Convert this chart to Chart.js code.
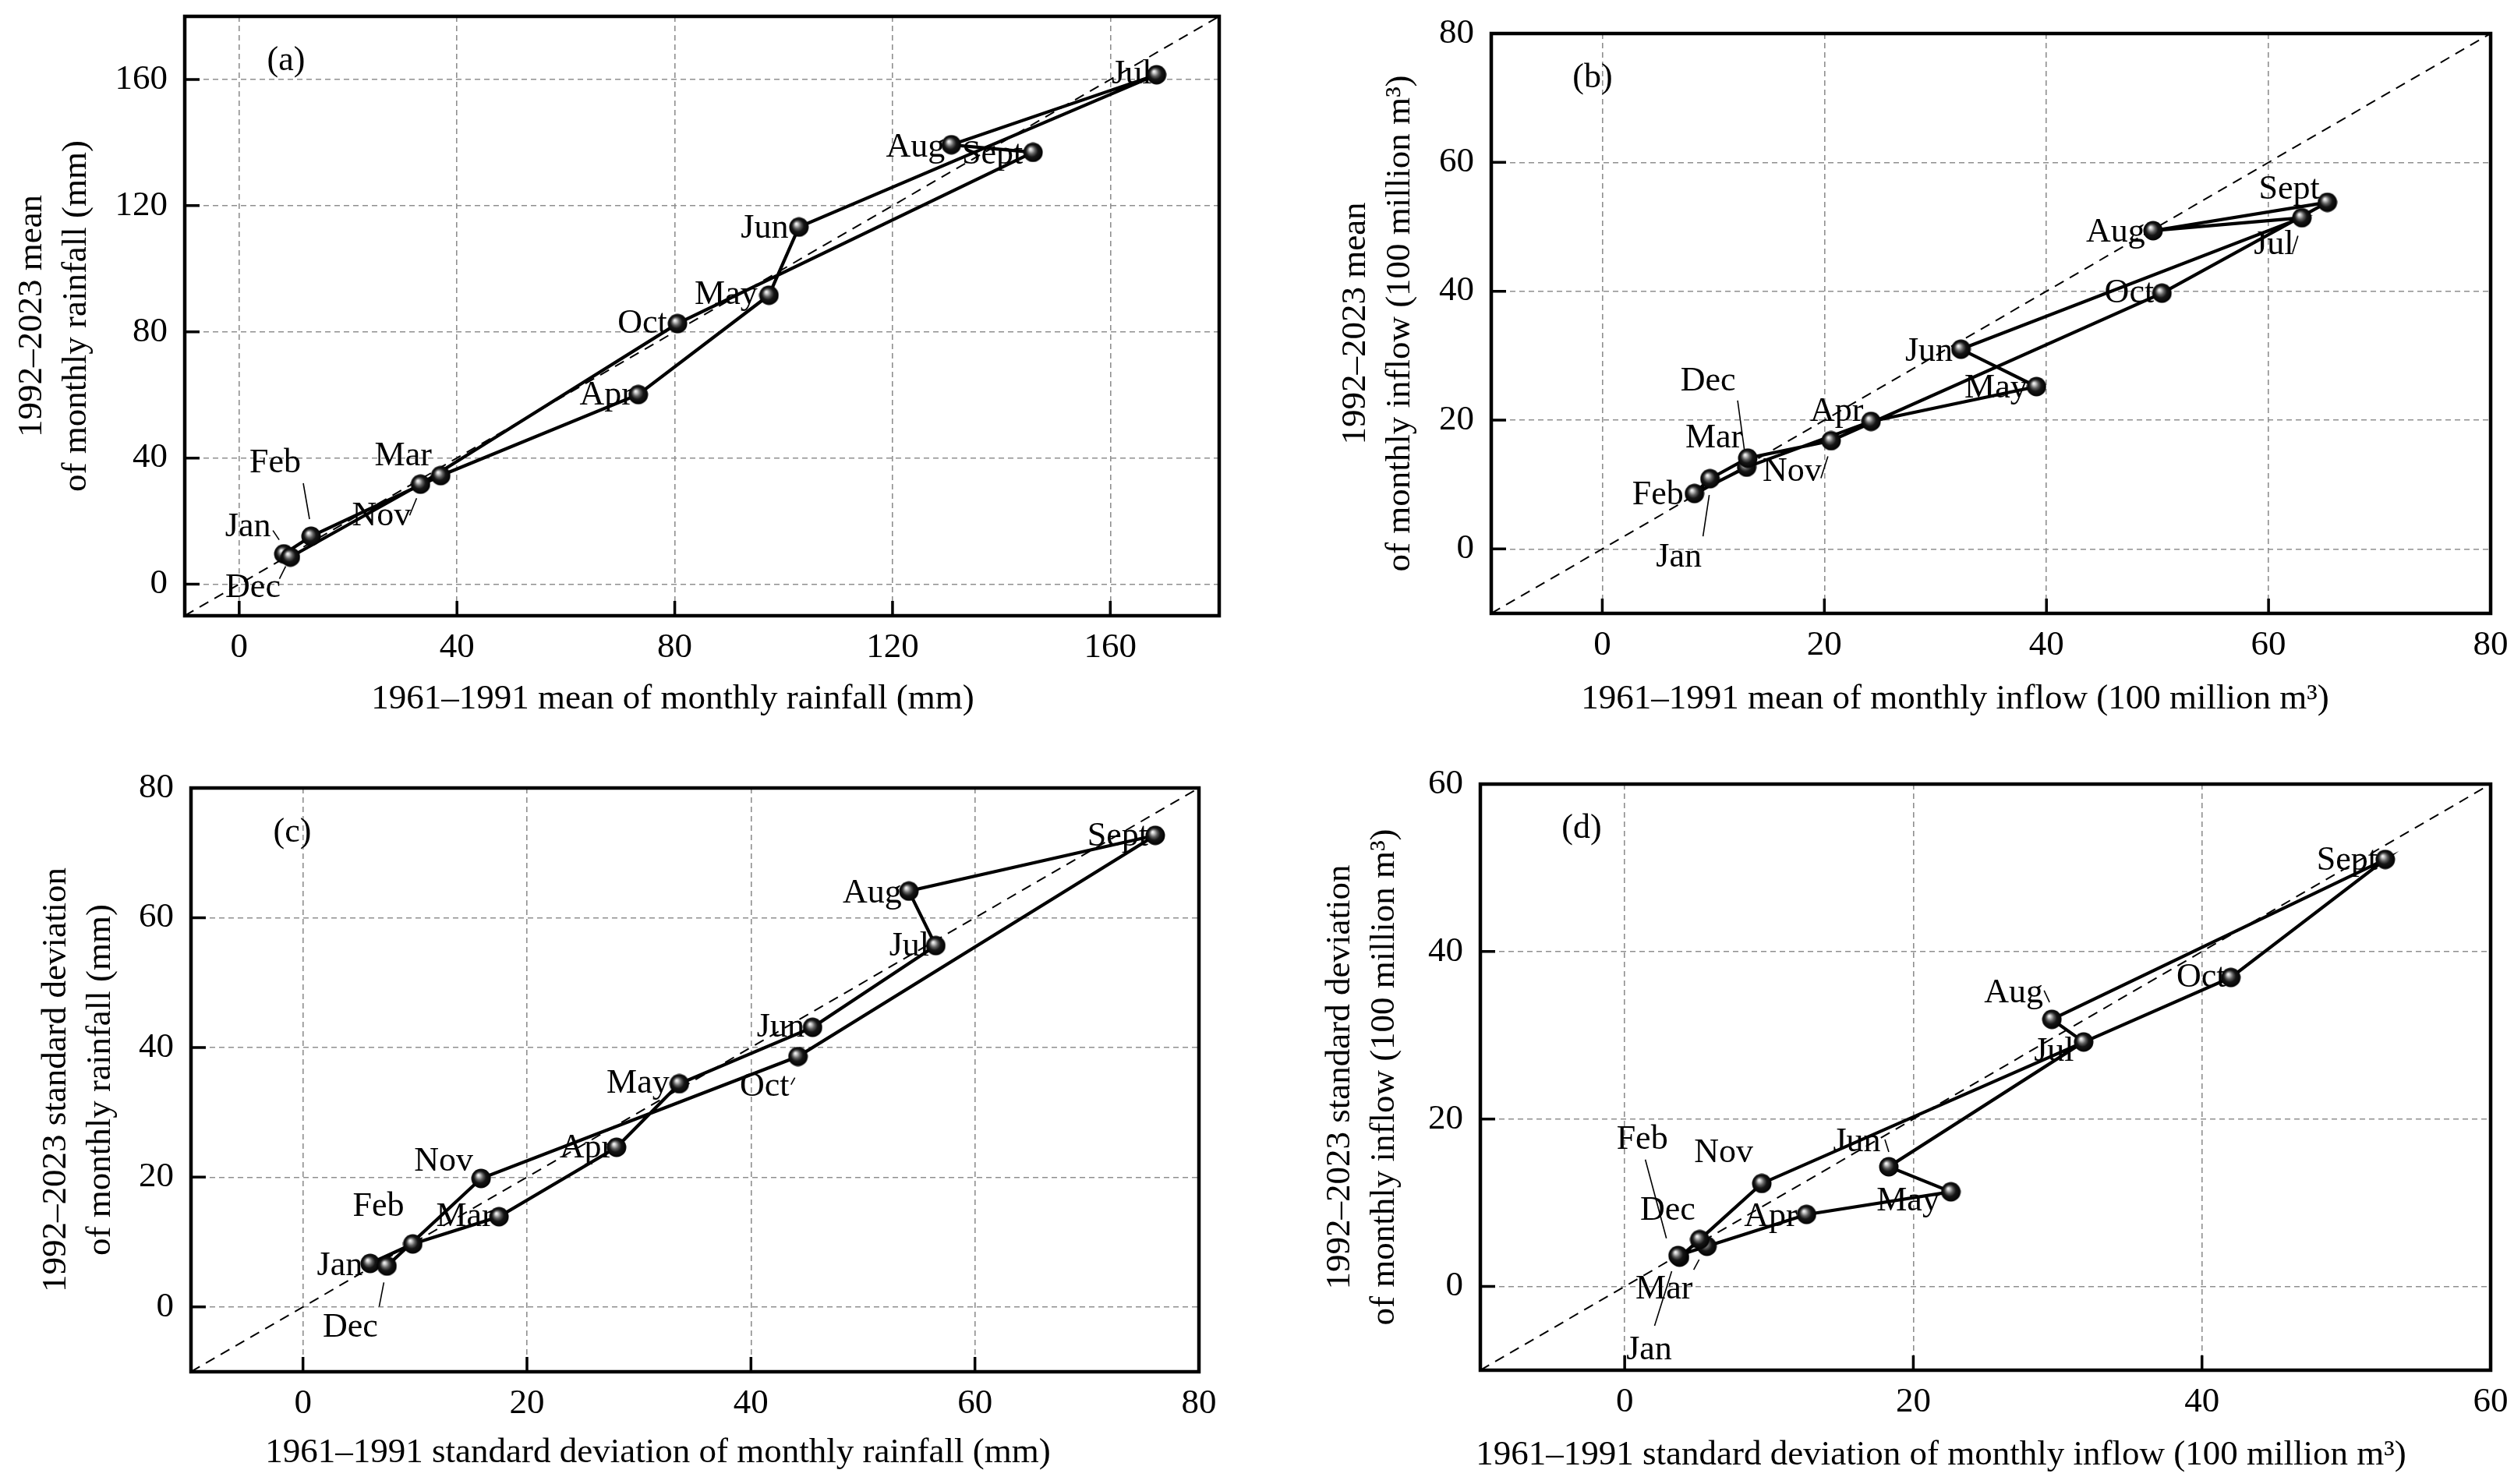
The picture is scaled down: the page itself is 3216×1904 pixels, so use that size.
<!DOCTYPE html>
<html>
<head>
<meta charset="utf-8">
<script src="https://cdn.jsdelivr.net/npm/chart.js@4.4.1/dist/chart.umd.min.js"></script>
<style>
  html, body { margin: 0; padding: 0; background: #fff; }
  #wrap { position: relative; width: 3216px; height: 1904px; overflow: hidden; }
  .panel { position: absolute; width: 1608px; height: 952px; }
</style>
</head>
<body>
<div id="wrap">
  <div class="panel" style="left:0;top:0"><canvas id="pa" width="1608" height="952"></canvas></div>
  <div class="panel" style="left:1608px;top:0"><canvas id="pb" width="1608" height="952"></canvas></div>
  <div class="panel" style="left:0;top:952px"><canvas id="pc" width="1608" height="952"></canvas></div>
  <div class="panel" style="left:1608px;top:952px"><canvas id="pd" width="1608" height="952"></canvas></div>
</div>
<script>
const months = ['Jan', 'Feb', 'Mar', 'Apr', 'May', 'Jun', 'Jul', 'Aug', 'Sept', 'Oct', 'Nov', 'Dec'];

// (a) mean of monthly rainfall (mm)
const rainMean6191 = [8.2, 13.2, 37.0, 73.3, 97.3, 102.8, 168.5, 130.8, 145.8, 80.5, 33.3, 9.4];
const rainMean9223 = [9.6, 15.2, 34.4, 60.1, 91.6, 113.2, 161.5, 139.3, 136.9, 82.6, 31.7, 8.6];
// (b) mean of monthly inflow (100 million m3)
const inflowMean6191 = [9.7, 8.3, 13.0, 24.2, 39.1, 32.3, 63.0, 49.6, 65.3, 50.4, 20.6, 13.1];
const inflowMean9223 = [10.9, 8.6, 12.7, 19.8, 25.2, 31.0, 51.4, 49.4, 53.8, 39.7, 16.8, 14.1];
// (c) standard deviation of monthly rainfall (mm)
const rainSd6191 = [6.0, 9.8, 17.5, 28.0, 33.6, 45.5, 56.5, 54.1, 76.1, 44.2, 15.9, 7.5];
const rainSd9223 = [6.7, 9.7, 13.9, 24.6, 34.4, 43.1, 55.7, 64.1, 72.7, 38.6, 19.8, 6.3];
// (d) standard deviation of monthly inflow (100 million m3)
const inflowSd6191 = [3.8, 3.7, 5.7, 12.6, 22.6, 18.3, 31.8, 29.6, 52.7, 42.0, 9.5, 5.2];
const inflowSd9223 = [3.5, 3.7, 4.8, 8.6, 11.3, 14.3, 29.2, 31.9, 51.0, 36.9, 12.3, 5.6];

const rangeA = [-10, 180];
const rangeB = [-10, 80];
const rangeC = [-10, 80];
const rangeD = [-10, 60];
const ticksA = [0, 40, 80, 120, 160];
const ticksB = [0, 20, 40, 60, 80];
const ticksC = [0, 20, 40, 60, 80];
const ticksD = [0, 20, 40, 60];

const FONT = '"Liberation Serif", "Times New Roman", serif';

// label placement: [dx, dy] of text centre from the marker, in px
const offsA = [[-46,-34],[-46,-94],[-48,-25],[-41,1],[-55,0],[-44,2],[-32,0],[-46,4],[-52,3],[-45,0],[-50,41],[-48,40]];
const leadA = [[-14,-30,-6,-18],[-10,-68,-2,-22],null,null,null,null,null,null,null,null,[-14,40,-5,18],[-14,28,-6,12]];
const offsB = [[-40,101],[-47,2],[-42,-37],[-44,-12],[-52,2],[-41,3],[-36,35],[-48,2],[-49,-16],[-42,0],[-50,40],[-51,-98]];
const leadB = [[-9,74,-1,21],null,null,null,null,null,[-12,45,-5,23],null,null,null,[-13,48,-4,20],[-13,-74,-4,-8]];
const offsC = [[-39,3],[-44,-48],[-44,0],[-39,1],[-53,0],[-41,0],[-34,1],[-47,3],[-48,2],[-43,39],[-48,-22],[-47,79]];
const leadC = [null,null,null,null,null,null,null,null,null,[-9,36,-4,27],null,[-10,52,-4,21]];
const offsD = [[-39,119],[-46,-148],[-55,55],[-46,3],[-55,12],[-41,-32],[-38,13],[-49,-33],[-49,2],[-38,0],[-49,-39],[-41,-37]];
const leadD = [[-32,88,-10,18],[-42,-123,-15,-22],[-17,30,-10,17],null,null,[-5,-35,0,-19],null,[-10,-37,-3,-22],null,null,null,null];

function ballImage(d) {
  const c = document.createElement('canvas');
  c.width = d; c.height = d;
  const g = c.getContext('2d');
  const r = d / 2;
  const grad = g.createRadialGradient(r * 0.72, r * 0.66, 0, r, r, r);
  grad.addColorStop(0, '#ffffff');
  grad.addColorStop(0.14, '#d2d2d2');
  grad.addColorStop(0.38, '#5e5e5e');
  grad.addColorStop(0.6, '#161616');
  grad.addColorStop(1, '#000000');
  g.fillStyle = grad;
  g.beginPath();
  g.arc(r, r, r - 0.5, 0, Math.PI * 2);
  g.fill();
  return c;
}
const ball = ballImage(26);

const monthLabels = {
  id: 'monthLabels',
  beforeDatasetsDraw(chart, args, opts) {
    const { ctx } = chart;
    const x = chart.scales.x, y = chart.scales.y;
    const pts = chart.data.datasets[0].data;
    ctx.save();
    ctx.font = '44px ' + FONT;
    ctx.fillStyle = '#000';
    ctx.strokeStyle = '#000';
    ctx.textAlign = 'center';
    ctx.textBaseline = 'middle';
    pts.forEach((p, i) => {
      const px = x.getPixelForValue(p.x), py = y.getPixelForValue(p.y);
      ctx.fillText(months[i], px + opts.offsets[i][0], py + opts.offsets[i][1]);
      const ld = opts.leaders[i];
      if (ld) {
        ctx.lineWidth = 1.6;
        ctx.beginPath();
        ctx.moveTo(px + ld[0], py + ld[1]);
        ctx.lineTo(px + ld[2], py + ld[3]);
        ctx.stroke();
      }
    });
    ctx.restore();
  }
};

const frame = {
  id: 'frame',
  afterDraw(chart, args, opts) {
    const { ctx, chartArea: a } = chart;
    const x = chart.scales.x, y = chart.scales.y;
    ctx.save();
    ctx.strokeStyle = '#000';
    ctx.lineWidth = 3.5;
    ctx.beginPath();
    x.ticks.forEach(t => {
      const px = x.getPixelForValue(t.value);
      ctx.moveTo(px, a.bottom); ctx.lineTo(px, a.bottom - 19);
    });
    y.ticks.forEach(t => {
      const py = y.getPixelForValue(t.value);
      ctx.moveTo(a.left, py); ctx.lineTo(a.left + 19, py);
    });
    ctx.stroke();
    ctx.lineWidth = 4.5;
    ctx.strokeRect(a.left, a.top, a.right - a.left, a.bottom - a.top);
    ctx.fillStyle = '#000';
    ctx.textAlign = 'center';
    ctx.textBaseline = 'middle';
    ctx.font = '44px ' + FONT;
    ctx.fillText(opts.tag, a.left + opts.tagDx, a.top + opts.tagDy);
    ctx.font = '45px ' + FONT;
    ctx.fillText(opts.xTitle, opts.xTitleX, opts.xTitleY);
    ctx.restore();
  }
};

function axis(range, ticks, fitKey, fitVal, extra) {
  return Object.assign({
    type: 'linear',
    min: range[0],
    max: range[1],
    afterBuildTicks: s => { s.ticks = ticks.map(v => ({ value: v })); },
    afterFit: s => {
      s[fitKey] = fitVal;
      // tick labels may overhang the plot edge; keep the plot box where it is
      s.paddingTop = 0; s.paddingBottom = 0; s.paddingLeft = 0; s.paddingRight = 0;
    },
    grid: { color: '#8f8f8f', lineWidth: 1.6, drawTicks: false },
    border: { display: false, dash: [7, 5] },
    ticks: { color: '#000', font: { family: FONT, size: 45 }, maxRotation: 0, autoSkip: false }
  }, extra);
}

function panel(id, p) {
  const pts = p.base.map((v, i) => ({ x: v, y: p.recent[i] }));
  const loop = pts.concat([pts[0]]);
  const diag = [{ x: p.range[0], y: p.range[0] }, { x: p.range[1], y: p.range[1] }];
  new Chart(document.getElementById(id), {
    type: 'scatter',
    data: {
      datasets: [
        { data: pts, pointStyle: ball, pointRadius: 13, showLine: false },
        { data: loop, showLine: true, borderColor: '#000', borderWidth: 4.2, pointRadius: 0, tension: 0 },
        { data: diag, showLine: true, borderColor: '#000', borderWidth: 2, borderDash: [13, 9], pointRadius: 0 }
      ]
    },
    options: {
      responsive: false,
      animation: false,
      layout: { padding: p.pad },
      plugins: {
        legend: { display: false },
        tooltip: { enabled: false },
        monthLabels: { offsets: p.offsets, leaders: p.leaders },
        frame: { tag: p.tag, tagDx: 130, tagDy: 57, xTitle: p.xTitle, xTitleX: p.xTitleX, xTitleY: p.xTitleY }
      },
      scales: {
        x: axis(p.range, p.ticks, 'height', p.xH, {
          ticks: { color: '#000', font: { family: FONT, size: 45 }, maxRotation: 0, autoSkip: false, padding: 14 }
        }),
        y: axis(p.range, p.ticks, 'width', p.yW, {
          ticks: { color: '#000', font: { family: FONT, size: 45 }, autoSkip: false, padding: 22 },
          title: {
            display: true, text: p.yTitle, color: '#000',
            font: { family: FONT, size: 45, lineHeight: 1.27 },
            padding: { top: p.yTitlePad, bottom: 0 }
          }
        })
      }
    },
    plugins: [monthLabels, frame]
  });
}

panel('pa', {
  base: rainMean6191, recent: rainMean9223, range: rangeA, ticks: ticksA,
  pad: { left: 0, top: 21, right: 44, bottom: 0 }, yW: 237, xH: 162, yTitlePad: 12.4,
  yTitle: ['1992–2023 mean', 'of monthly rainfall (mm)'],
  xTitle: '1961–1991 mean of monthly rainfall (mm)', xTitleX: 863, xTitleY: 897,
  tag: '(a)', offsets: offsA, leaders: leadA
});
panel('pb', {
  base: inflowMean6191, recent: inflowMean9223, range: rangeB, ticks: ticksB,
  pad: { left: 0, top: 43, right: 21, bottom: 0 }, yW: 305, xH: 165, yTitlePad: 102.5,
  yTitle: ['1992–2023 mean', 'of monthly inflow (100 million m³)'],
  xTitle: '1961–1991 mean of monthly inflow (100 million m³)', xTitleX: 900, xTitleY: 897,
  tag: '(b)', offsets: offsB, leaders: leadB
});
panel('pc', {
  base: rainSd6191, recent: rainSd9223, range: rangeC, ticks: ticksC,
  pad: { left: 0, top: 59, right: 70, bottom: 0 }, yW: 245, xH: 144, yTitlePad: 43.4,
  yTitle: ['1992–2023 standard deviation', 'of monthly rainfall (mm)'],
  xTitle: '1961–1991 standard deviation of monthly rainfall (mm)', xTitleX: 844, xTitleY: 912,
  tag: '(c)', offsets: offsC, leaders: leadC
});
panel('pd', {
  base: inflowSd6191, recent: inflowSd9223, range: rangeD, ticks: ticksD,
  pad: { left: 0, top: 54, right: 21, bottom: 0 }, yW: 291, xH: 146, yTitlePad: 82.4,
  yTitle: ['1992–2023 standard deviation', 'of monthly inflow (100 million m³)'],
  xTitle: '1961–1991 standard deviation of monthly inflow (100 million m³)', xTitleX: 882, xTitleY: 915,
  tag: '(d)', offsets: offsD, leaders: leadD
});
</script>
</body>
</html>
